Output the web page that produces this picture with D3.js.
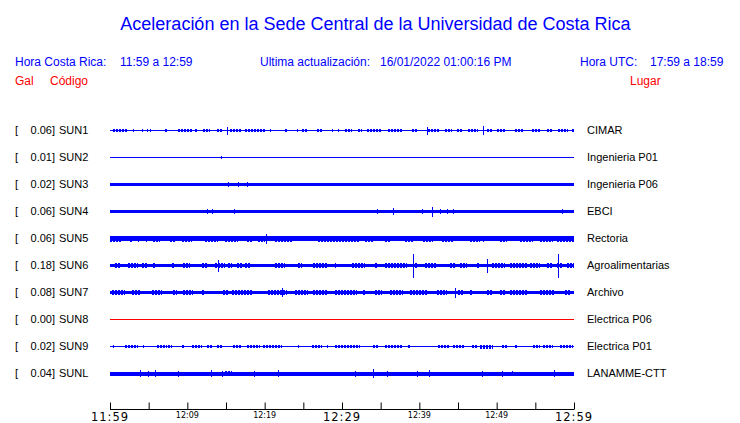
<!DOCTYPE html>
<html><head><meta charset="utf-8">
<script src="https://cdn.jsdelivr.net/npm/d3@7"></script>
<style>
html,body{margin:0;padding:0;background:#fff;}
svg{display:block;}
</style></head>
<body>
<svg id="chart" width="740" height="423"></svg>
<script>
// ---------------- DATA ----------------
const stations = ["SUN1","SUN2","SUN3","SUN4","SUN5","SUN6","SUN7","SUN8","SUN9","SUNL"];
const galMax   = [0.06, 0.01, 0.02, 0.06, 0.06, 0.18, 0.08, 0.00, 0.02, 0.04];
const places   = ["CIMAR","Ingenieria P01","Ingenieria P06","EBCI","Rectoria","Agroalimentarias","Archivo","Electrica P06","Electrica P01","LANAMME-CTT"];
// background noise half-amplitude of each trace (relative counts)
const noiseLevel = [0.5, 0.5, 1.7, 1.7, 2.2, 1.7, 1.7, 0.5, 0.5, 2.0];
// bursts: [start minute, end minute, half-amplitude] (minutes after 11:59)
const sun1Bursts = [[0.4,2.2,1.5],[3.0,3.0,1.5],[4.1,4.1,1.5],[4.8,4.8,1.5],[5.2,5.2,1.5],[7.1,7.5,1.5],[8.8,10.7,1.5],[11.0,11.4,1.5],[12.0,12.9,1.5],[13.8,14.5,1.5],[15.1,15.1,4],[15.5,17.1,1.5],[17.5,20.0,1.5],[20.7,20.7,1.5],[22.6,23.0,1.5],[24.2,24.2,1.5],[24.8,25.6,1.5],[26.8,27.5,1.5],[28.7,28.7,1.5],[29.5,29.5,1.5],[30.4,31.3,1.5],[32.1,32.6,1.5],[33.2,35.2,1.5],[36.0,37.8,1.5],[39.1,39.8,1.5],[41.0,41.0,4],[41.1,42.7,1.5],[43.3,44.2,1.5],[44.9,45.5,1.5],[46.3,47.6,1.5],[48.2,48.2,4.5],[48.8,49.4,1.5],[50.0,51.1,1.5],[52.4,53.4,1.5],[54.6,55.6,1.5],[56.5,57.3,1.5],[57.9,59.2,1.5],[59.7,60,1.5]];
const sun2Bursts = [[14.3,14.3,1.2]];
const sun3Bursts = [[15.3,15.3,2.7],[16.5,16.5,2.7],[17.7,17.7,2.7]];
const sun4Bursts = [[12.5,12.5,2.7],[13.2,13.2,2.7],[16.0,16.0,2.7],[34.5,34.5,2.5],[36.6,36.6,3.5],[40.3,40.3,2.5],[41.6,41.6,5],[42.7,42.7,2.3],[43.6,43.6,2.3],[44.4,44.4,2.3],[58.4,58.4,2.7]];
const sun5Bursts = [[0,1.6,3],[2.6,2.8,3],[3.6,3.6,3],[4.7,4.7,3],[5.6,6.5,3],[7.8,8.4,3],[9.3,10.6,3],[12.3,14.0,3],[14.9,16.6,3],[17.7,18.5,3],[19.1,20.0,3],[20.2,20.2,5],[21.3,23.5,3],[26.9,32.3,3],[33.0,34.0,3],[35.6,36.2,3],[38.1,39.2,3],[40.5,41.8,3],[42.9,44.4,3],[46.6,47.8,3],[48.2,48.2,3],[50.4,51.3,3],[53.0,54.7,3],[55.6,57.3,3],[57.8,60,3]];
const sun6Bursts = [[0.6,1.3,2.8],[2.3,3.6,2.8],[4.1,4.8,2.8],[5.6,5.8,2.8],[8.0,8.4,2.8],[9.4,10.3,2.8],[11.9,12.7,2.8],[13.6,14.9,2.8],[14.0,14.0,6],[15.3,15.8,2.8],[16.4,17.1,2.8],[17.5,18.1,2.8],[21.3,22.6,2.8],[24.3,24.8,2.8],[26.3,28.1,2.8],[29.1,29.1,2.8],[31.3,33.0,2.8],[34.3,34.7,2.8],[35.6,38.4,2.8],[39.2,39.2,12],[39.4,39.8,2.8],[40.7,42.3,2.8],[44.0,44.6,2.8],[45.3,46.2,2.8],[47.5,47.8,2.8],[48.8,48.8,7],[49.4,51.1,2.8],[51.7,53.9,2.8],[54.3,55.6,2.8],[56.5,57.3,2.8],[57.8,58.4,2.8],[57.9,57.9,12],[59.1,60,2.8]];
const sun7Bursts = [[0.3,1.9,2.8],[2.8,3.9,2.8],[5.4,6.7,2.8],[8.1,8.7,2.8],[9.4,10.7,2.8],[11.9,12.3,2.8],[14.6,15.3,2.8],[15.8,18.4,2.8],[20.4,22.9,2.8],[22.2,22.2,4.5],[23.9,25.6,2.8],[26.3,28.1,2.8],[29.1,31.9,2.8],[32.7,33.0,2.8],[34.3,35.2,2.8],[36.2,37.9,2.8],[38.8,41.0,2.8],[42.3,43.6,2.8],[44.6,44.6,5],[45.0,45.6,2.8],[46.6,46.9,2.8],[48.8,49.4,2.8],[50.4,51.1,2.8],[51.7,53.9,2.8],[55.6,57.5,2.8],[58.8,59.5,2.8]];
const sun8Bursts = [];
const sun9Bursts = [[0.4,0.4,1.5],[1.9,3.6,1.5],[4.3,4.3,1.5],[6.1,7.4,1.5],[7.5,8.0,1.5],[9.3,9.7,1.5],[10.6,11.9,1.5],[12.5,13.2,1.5],[13.8,14.6,1.5],[15.9,17.1,1.5],[17.7,19.4,1.5],[19.8,21.6,1.5],[21.7,22.2,1.5],[24.3,24.3,1.5],[26.1,27.4,1.5],[28.1,28.1,1.5],[29.1,32.3,1.5],[34.0,34.7,1.5],[35.6,37.9,1.5],[38.5,38.8,1.5],[42.4,44.0,1.5],[44.4,45.9,1.5],[46.8,47.5,1.5],[47.8,49.5,2],[50.7,51.5,1.5],[52.4,52.8,1.5],[54.7,55.6,1.5],[56.0,57.3,1.5],[58.2,59.9,1.5]];
const sunLBursts = [[3.9,3.9,3.2],[4.9,4.9,3],[5.8,5.8,3.5],[8.8,8.8,3],[13.1,13.1,3.5],[14.5,14.5,3],[14.9,15.8,2.8],[18.6,18.6,3],[21.7,21.7,3.5],[31.7,31.7,3],[34.0,34.0,4.5],[35.8,35.8,3],[39.7,39.7,3],[41.3,41.3,3.5],[48.1,48.1,3],[50.7,50.7,3],[52.0,52.0,2.5],[57.4,57.4,3.5]];
const burstsByStation = [sun1Bursts,sun2Bursts,sun3Bursts,sun4Bursts,sun5Bursts,sun6Bursts,sun7Bursts,sun8Bursts,sun9Bursts,sunLBursts];

const windowStart = "2022-01-16T11:59:00";
const windowEnd   = "2022-01-16T12:59:00";
const tickMinutes = [0,5,10,15,20,25,30,35,40,45,50,55,60];
const majorTickMinutes = [0,30,60];
const labelTickMinutes = [0,10,20,30,40,50,60];

const titleText = "Aceleración en la Sede Central de la Universidad de Costa Rica";
const localLabel = "Hora Costa Rica:", localRange = "11:59 a 12:59";
const updateLabel = "Ultima actualización:", updateValue = "16/01/2022 01:00:16 PM";
const utcLabel = "Hora UTC:", utcRange = "17:59 a 18:59";

// ---------------- DRAWING ----------------
const svg = d3.select("#chart");
const t0 = new Date(windowStart), t1 = new Date(windowEnd);
const atMinute = m => new Date(t0.getTime() + m * 60000);

const x = d3.scaleTime().domain([t0, t1]).range([110, 574]);
const yRow = d3.scalePoint().domain(stations).range([130.5, 373.5]);
const amp = d3.scaleLinear().domain([-13, 13]).range([13, -13]);

const blue = "#0000ff", red = "#ff0000";
const sans = "'Liberation Sans', Arial, Helvetica, sans-serif";

svg.append("text").attr("x", 375.5).attr("y", 29.5).attr("text-anchor", "middle")
  .attr("font-family", sans).attr("font-size", 18).attr("fill", blue).text(titleText);

const hdr = [[15, localLabel],[120, localRange],[260, updateLabel],[380, updateValue],[580, utcLabel],[650, utcRange]];
svg.selectAll("text.hdr").data(hdr).join("text").attr("class","hdr")
  .attr("x", d => d[0]).attr("y", 65.5).attr("font-family", sans).attr("font-size", 12)
  .attr("fill", blue).text(d => d[1]);

const sub = [[15, "Gal"],[50, "Código"],[630, "Lugar"]];
svg.selectAll("text.sub").data(sub).join("text").attr("class","sub")
  .attr("x", d => d[0]).attr("y", 84.5).attr("font-family", sans).attr("font-size", 12)
  .attr("fill", red).text(d => d[1]);

const rows = stations.map((s, i) => ({ s, gal: galMax[i], place: places[i], noise: noiseLevel[i], bursts: burstsByStation[i] }));

const row = svg.selectAll("g.row").data(rows).join("g").attr("class", "row")
  .attr("transform", d => `translate(0,${yRow(d.s)})`);

row.append("text").attr("x", 15).attr("y", 3.8).attr("font-family", sans).attr("font-size", 11).attr("fill", "#000").text("[");
row.append("text").attr("x", 55).attr("y", 3.8).attr("text-anchor", "end").attr("font-family", sans).attr("font-size", 11).attr("fill", "#000").text(d => d3.format(".2f")(d.gal) + "]");
row.append("text").attr("x", 59).attr("y", 3.8).attr("font-family", sans).attr("font-size", 11).attr("fill", "#000").text(d => d.s);
row.append("text").attr("x", 587).attr("y", 3.8).attr("font-family", sans).attr("font-size", 11).attr("fill", "#000").text(d => d.place);

const traceColor = d => d.gal === 0 ? red : blue;

row.append("rect")
  .attr("x", x(t0)).attr("width", x(t1) - x(t0))
  .attr("y", d => amp(d.noise)).attr("height", d => amp(-d.noise) - amp(d.noise))
  .attr("fill", traceColor).attr("shape-rendering", "crispEdges");

row.each(function(d) {
  const g = d3.select(this);
  const spikes = d.bursts.filter(b => b[1] <= b[0]);
  const clusters = d.bursts.filter(b => b[1] > b[0]);
  // clusters of short oscillations: drawn as a dashed thick stroke (vertical-stripe texture)
  g.selectAll("line.cluster").data(clusters).join("line").attr("class", "cluster")
    .attr("x1", b => x(atMinute(b[0]))).attr("x2", b => x(atMinute(b[1])))
    .attr("y1", 0).attr("y2", 0)
    .attr("stroke", traceColor(d)).attr("stroke-width", b => amp(-b[2]) - amp(b[2]))
    .attr("stroke-dasharray", "2,1").attr("shape-rendering", "crispEdges");
  // isolated spikes
  g.selectAll("rect.spike").data(spikes).join("rect").attr("class", "spike")
    .attr("x", b => x(atMinute(b[0]))).attr("width", 1)
    .attr("y", b => amp(b[2])).attr("height", b => amp(-b[2]) - amp(b[2]))
    .attr("fill", traceColor(d)).attr("shape-rendering", "crispEdges");
});

// time axis
const axisG = svg.append("g").attr("transform", "translate(0,409.5)");
const axis = d3.axisTop(x).tickValues(tickMinutes.map(atMinute)).tickSize(7).tickFormat("");
axisG.call(axis);
axisG.select(".domain").attr("stroke", "#000").attr("d", `M${x(t0)},0H${x(t1)}`);
axisG.selectAll(".tick line").attr("stroke", "#000");

const fmt = d3.timeFormat("%H:%M");
svg.selectAll("text.tl").data(labelTickMinutes).join("text").attr("class","tl")
  .attr("x", m => x(atMinute(m))).attr("text-anchor", "middle")
  .attr("y", m => majorTickMinutes.includes(m) ? 420.5 : 418)
  .attr("font-family", "'DejaVu Sans', sans-serif")
  .attr("font-size", m => majorTickMinutes.includes(m) ? 11.5 : 8)
  .attr("letter-spacing", m => majorTickMinutes.includes(m) ? 1 : 0)
  .attr("fill", "#000")
  .text(m => fmt(atMinute(m)));
</script>
</body></html>
